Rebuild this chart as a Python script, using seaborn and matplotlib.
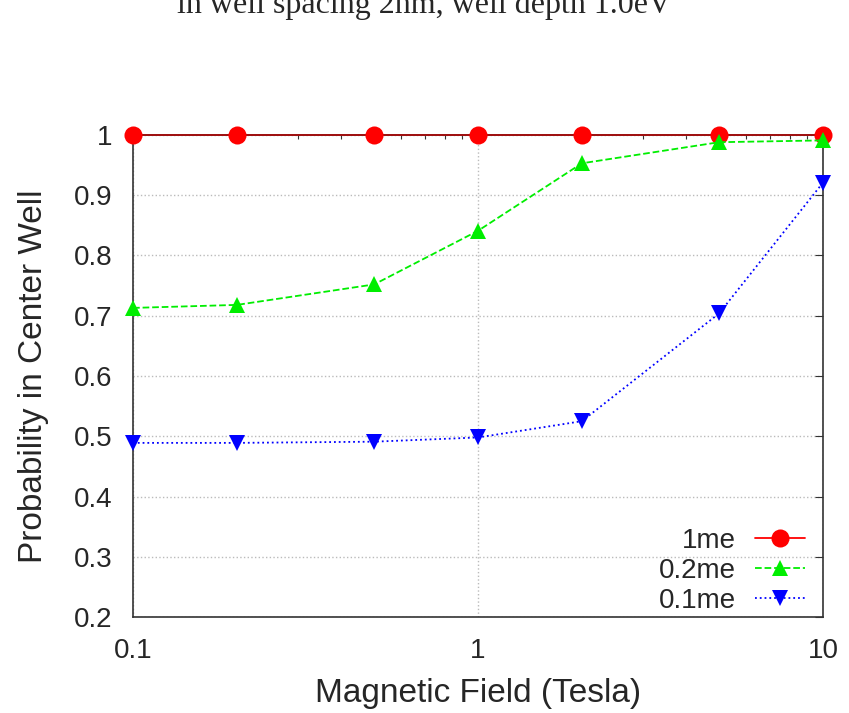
import numpy as np
import pandas as pd
import matplotlib
matplotlib.use("Agg")
import matplotlib.pyplot as plt
import seaborn as sns
from matplotlib.ticker import LogLocator, FixedLocator, FuncFormatter

# field values (Tesla)
field = [0.1, 0.2, 0.5, 1, 2, 5, 10]
# probability in centre well for each effective mass
p_1me = [1.0, 1.0, 1.0, 1.0, 1.0, 1.0, 1.0]
p_02me = [0.713, 0.718, 0.752, 0.841, 0.953, 0.988, 0.991]
p_01me = [0.489, 0.489, 0.491, 0.498, 0.525, 0.704, 0.921]
labels = ['1me', '0.2me', '0.1me']

df = pd.DataFrame({'B': field * 3,
                   'P': p_1me + p_02me + p_01me,
                   'mass': [labels[0]] * 7 + [labels[1]] * 7 + [labels[2]] * 7})

sns.set_style('white')
plt.rcParams['font.family'] = ['Liberation Sans', 'DejaVu Sans']

fig = plt.figure(figsize=(8.49, 7.13), dpi=100)
ax = fig.add_axes([0.1567, 0.1346, 0.8127, 0.6761])

styles = {'1me': dict(color='#ff0000', marker='o', linestyle='-', ms=13),
          '0.2me': dict(color='#00ee00', marker='^', linestyle='--', ms=11),
          '0.1me': dict(color='#0000ff', marker='v', linestyle=':', ms=11)}

for lab in labels:
    st = styles[lab]
    sub = df[df['mass'] == lab]
    sns.lineplot(data=sub, x='B', y='P', ax=ax, color=st['color'], marker=st['marker'],
                 linestyle=st['linestyle'], markersize=st['ms'], markeredgewidth=0,
                 linewidth=1.3, label=lab, clip_on=False, zorder=5)

ax.set_xscale('log')
ax.set_xlim(0.1, 10)
ax.set_ylim(0.2, 1.0)
ax.xaxis.set_major_locator(FixedLocator([0.1, 1, 10]))
ax.xaxis.set_major_formatter(FuncFormatter(lambda v, p: '%g' % v))
ax.xaxis.set_minor_locator(LogLocator(base=10, subs=np.arange(2, 10)))
ax.set_yticks(np.arange(0.2, 1.01, 0.1))
ax.yaxis.set_major_formatter(FuncFormatter(lambda v, p: '%g' % round(v, 1)))

ax.tick_params(which='both', direction='in', top=True, right=True, labelsize=20,
               color='#333333', pad=15)
ax.tick_params(which='major', length=6, width=0.8)
ax.tick_params(which='minor', length=3, width=0.8)
ax.grid(True, which='major', linestyle=':', color='#bbbbbb', linewidth=1)
for s in ax.spines.values():
    s.set_color('#333333')
    s.set_linewidth(1.2)
ax.spines['top'].set_color('#8b0000')

ax.set_xlabel('Magnetic Field (Tesla)', fontsize=24, labelpad=10)
ax.set_ylabel('Probability in Center Well', fontsize=24, labelpad=18)

# plotted 1me line sits on the frame and looks dark red; legend keeps bright red
ax.get_lines()[0].set_color('#a01010')
ax.get_lines()[0].set_markerfacecolor('#ff0000')
leg = ax.legend(loc='lower right', bbox_to_anchor=(0.984, -0.008), frameon=False,
                markerfirst=False, fontsize=20, handlelength=1.8, handletextpad=0.7,
                labelspacing=0.15, borderaxespad=0.0, borderpad=0.25)
leg.get_lines()[0].set_color('#ff0000')

# partly cut caption above the figure
fig.text(0.5, 1 - 13 / 713, 'in well spacing 2nm, well depth 1.0eV', ha='center',
         va='baseline', fontsize=23, family=['Liberation Serif', 'DejaVu Serif'])

fig.savefig('out.png', dpi=100)
